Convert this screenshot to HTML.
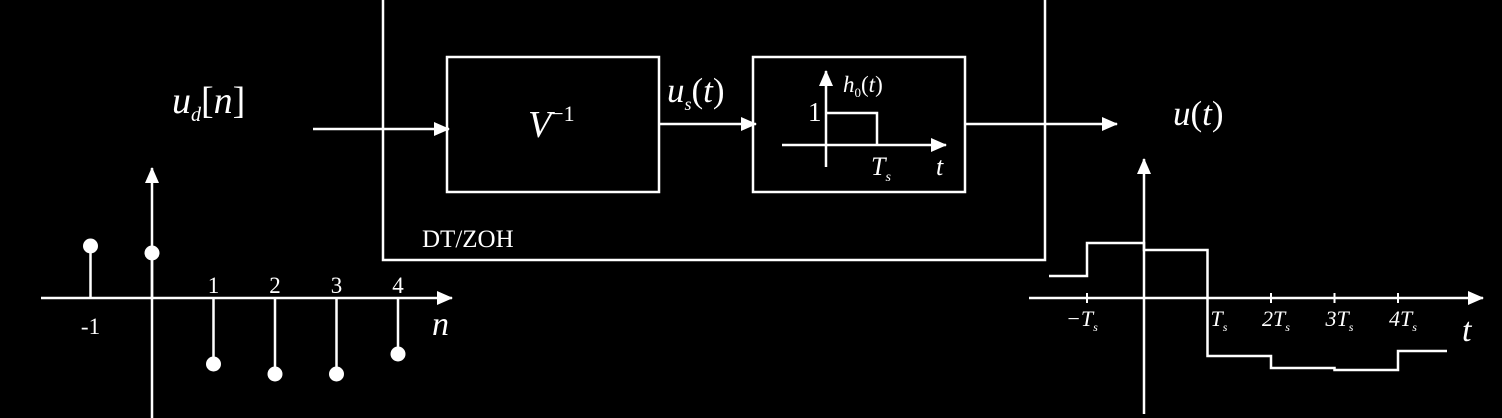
<!DOCTYPE html>
<html><head><meta charset="utf-8"><style>
html,body{margin:0;padding:0;background:#000;}
svg{display:block;}
text{fill:#fff;font-family:"Liberation Serif",serif;}
.it{font-style:italic;}
</style></head><body>
<svg id="s" width="1502" height="418" viewBox="0 0 1502 418" xmlns="http://www.w3.org/2000/svg">
<defs>
<marker id="ahb" markerWidth="16" markerHeight="14" refX="15" refY="7" orient="auto" markerUnits="userSpaceOnUse"><path d="M0,0 L16,7 L0,14 Z" fill="#fff"/></marker>
</defs>
<g stroke="#fff" stroke-width="2.5" fill="none">
<path d="M383,-5 V260 H1045 V-5"/>
<rect x="447" y="57" width="212" height="135"/>
<rect x="753" y="57" width="212" height="135"/>
<line x1="313" y1="129" x2="449" y2="129" marker-end="url(#ahb)"/>
<line x1="659" y1="124" x2="756" y2="124" marker-end="url(#ahb)"/>
<line x1="965" y1="124" x2="1117" y2="124" marker-end="url(#ahb)"/>
<line x1="782" y1="145" x2="946" y2="145" marker-end="url(#ahb)"/>
<line x1="826" y1="167" x2="826" y2="71" marker-end="url(#ahb)"/>
<path d="M826,113 H877 V145"/>
</g>
<text x="172" y="113" font-size="38" class="it">u<tspan font-size="20" dy="8">d</tspan><tspan font-style="normal" dy="-8">[</tspan>n<tspan font-style="normal">]</tspan></text>
<text x="528" y="137" font-size="38" class="it">V<tspan font-style="normal" font-size="22" dy="-16">−1</tspan></text>
<text x="667" y="102" font-size="35" class="it">u<tspan font-size="18" dy="8">s</tspan><tspan font-style="normal" dy="-8">(</tspan>t<tspan font-style="normal">)</tspan></text>
<text x="843" y="92" font-size="23" class="it">h<tspan font-style="normal" font-size="13" dy="5">0</tspan><tspan font-style="normal" dy="-5">(</tspan>t<tspan font-style="normal">)</tspan></text>
<text x="808" y="121" font-size="27">1</text>
<text x="871" y="175" font-size="26" class="it">T<tspan font-size="14" dy="6">s</tspan></text>
<text x="936" y="175" font-size="26" class="it">t</text>
<text x="1173" y="125" font-size="35" class="it">u<tspan font-style="normal">(</tspan>t<tspan font-style="normal">)</tspan></text>
<text x="422" y="247" font-size="25">DT/ZOH</text>
<g id="left"></g>
<g id="right"></g>
</svg>
<script>
const nIdx = [-1, 0, 1, 2, 3, 4];
const udVals = [1.04, 0.9, -1.32, -1.52, -1.52, -1.12];
const nTickLabels = ["-1", "1", "2", "3", "4"];
const tIdx = [-2, -1, 0, 1, 2, 3, 4];
const uLevels = [0.44, 1.1, 0.96, -1.16, -1.4, -1.44, -1.06];
const tTickIdx = [-1, 1, 2, 3, 4];
const tTickLabels = ["−T", "T", "2T", "3T", "4T"];

const NS = "http://www.w3.org/2000/svg";
function mk(tag, attrs, parent){const e=document.createElementNS(NS,tag);for(const k in attrs)e.setAttribute(k,attrs[k]);parent.appendChild(e);return e;}
const L = document.getElementById('left');
const lx = n => 152 + 61.5*n;
const ly = v => 298 - 50*v;
let e;
e = mk('line',{x1:41,y1:298,x2:452,y2:298,stroke:'#fff','stroke-width':2.5,'marker-end':'url(#ahb)'},L);


e = mk('line',{x1:152,y1:418,x2:152,y2:168,stroke:'#fff','stroke-width':2.5,'marker-end':'url(#ahb)'},L);


nIdx.forEach((n,i)=>{
  e = mk('line',{x1:lx(n),y1:298,x2:lx(n),y2:ly(udVals[i]),stroke:'#fff','stroke-width':2.5},L);
  
  
  e = mk('circle',{cx:lx(n),cy:ly(udVals[i]),r:7.5,fill:'#fff'},L);
  
  
});
[-1,1,2,3,4].forEach((n,i)=>{
  e = mk('text',{x:lx(n),y:n<0?334:293,'font-size':23,'text-anchor':'middle'},L);
  e.textContent = nTickLabels[i];
  
  
});
e = mk('text',{x:432,y:335,'font-size':34,'font-style':'italic'},L);
e.textContent='n';



const R = document.getElementById('right');
const rx = k => k<0 ? 1144 + 57*k : 1144 + 63.5*k;
const ry = v => 298 - 50*v;
e = mk('line',{x1:1029,y1:298,x2:1483,y2:298,stroke:'#fff','stroke-width':2.5,'marker-end':'url(#ahb)'},R);


e = mk('line',{x1:1144,y1:414,x2:1144,y2:159,stroke:'#fff','stroke-width':2.5,'marker-end':'url(#ahb)'},R);


let d='';
tIdx.forEach((k,i)=>{
  const x0 = k===-2 ? 1049 : rx(k), x1 = k===4 ? 1447 : rx(k+1);
  d += (i===0?'M':'L')+x0+','+ry(uLevels[i])+' L'+x1+','+ry(uLevels[i])+' ';
});
e = mk('path',{d:d,stroke:'#fff','stroke-width':2.5,fill:'none'},R);


tTickIdx.forEach((k,i)=>{
  e = mk('line',{x1:rx(k),y1:293,x2:rx(k),y2:303,stroke:'#fff','stroke-width':2},R);
  
  
  const t = mk('text',{x:rx(k)-(k<0?21:k===1?-3:9),y:326,'font-size':22,'font-style':'italic'},R);
  t.innerHTML = tTickLabels[i]+'<tspan font-size="12" dy="5">s</tspan>';
  
  
});
e = mk('text',{x:1462,y:341,'font-size':34,'font-style':'italic'},R);
e.textContent='t';


</script>
</body></html>
